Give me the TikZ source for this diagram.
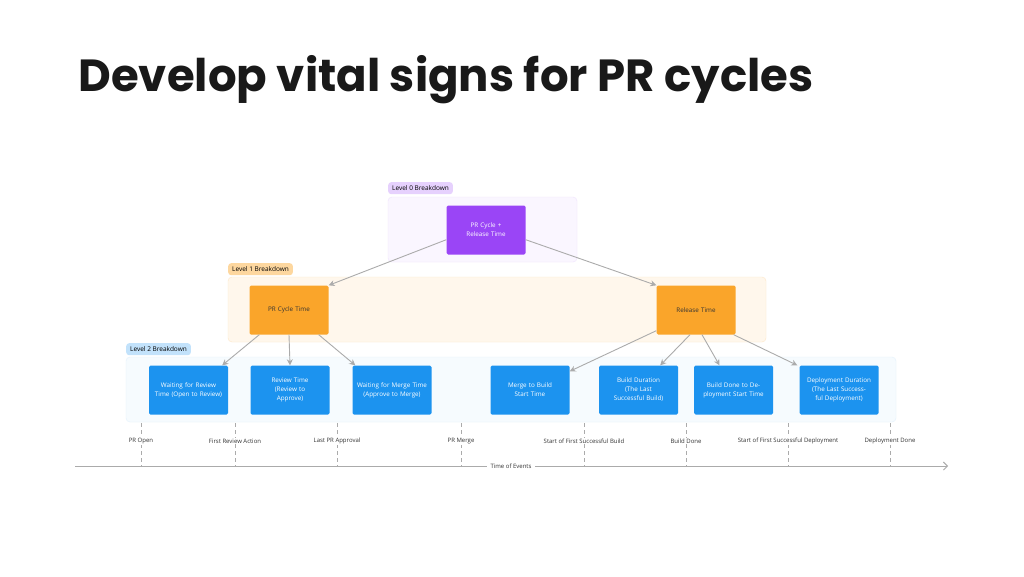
\documentclass[tikz,border=0pt]{standalone}
\usepackage{fontspec}
\setmainfont{Open Sans}
\newfontfamily\titlefont{Poppins}[UprightFont=* Bold]
\usetikzlibrary{arrows.meta,positioning}
\definecolor{lvpurple}{HTML}{9A45F6}
\definecolor{lvorange}{HTML}{FAA52A}
\definecolor{lvblue}{HTML}{1C93EF}
\definecolor{arrgray}{HTML}{ABABAB}
\tikzset{
  box/.style={rectangle,rounded corners=1.5pt,minimum width=#1,minimum height=49pt,
    align=center,font=\fontsize{6.3}{9}\selectfont,inner sep=1pt,text width=#1-8pt},
  box/.default=79pt,
  pbox/.style={box,fill=lvpurple,text=white},
  obox/.style={box,fill=lvorange,text=black!80},
  bbox/.style={box,fill=lvblue,text=white},
  lvl/.style={rectangle,rounded corners=3pt,anchor=north west,inner xsep=4pt,
    minimum height=12pt,font=\fontsize{6.5}{8}\selectfont},
  link/.style={draw=arrgray,line width=0.9pt,-{Stealth[length=6pt,width=6pt]}},
  tick/.style={draw=arrgray,line width=0.7pt,dash pattern=on 4pt off 3pt},
  evt/.style={font=\fontsize{6}{8}\selectfont,text=black!80}
}
\begin{document}
\begin{tikzpicture}[x=1pt,y=-1pt]
\useasboundingbox[fill=white] (0,0) rectangle (1024,576);
\node[anchor=west,font=\titlefont\fontsize{45}{50}\selectfont,text=black!90] (title) at (75,80) {Develop vital signs for PR cycles};

% containers
\draw[draw=lvpurple!15,fill=lvpurple!5,rounded corners=4pt] (388,197) rectangle (577,262);
\draw[draw=lvorange!25,fill=lvorange!9,rounded corners=4pt] (228,277) rectangle (766,342);
\draw[draw=lvblue!12,fill=lvblue!4,rounded corners=4pt] (126,357) rectangle (896,422);
\node[lvl,fill=lvpurple!25] (lv0) at (388,182) {Level 0 Breakdown};
\node[lvl,fill=lvorange!45] (lv1) at (228,263) {Level 1 Breakdown};
\node[lvl,fill=lvblue!27] (lv2) at (126,343) {Level 2 Breakdown};

% level 0 and 1
\node[pbox] (total) at (486,230) {PR Cycle +\\Release Time};
\node[obox] (cycle) at (289,310) {PR Cycle Time};
\node[obox] (release) at (696,310) {Release Time};

% level 2
\node[bbox] (wreview) at (188.5,390) {Waiting for Review Time (Open to Review)};
\node[bbox] (review) at (290,390) {Review Time\\(Review to\\Approve)};
\node[bbox] (wmerge) at (392,390) {Waiting for Merge Time (Approve to Merge)};
\node[bbox] (mbuild) at (530,390) {Merge to Build\\Start Time};
\node[bbox] (build) at (638.5,390) {Build Duration\\(The Last\\Successful Build)};
\node[bbox] (bdeploy) at (733.5,390) {Build Done to Deployment Start Time};
\node[bbox=88pt] (deploy) at (839,390) {Deployment Duration (The Last Successful Deployment)};

\draw[link] (total.south west) ++(0,-15) -- (cycle.north east);
\draw[link] (total.south east) ++(0,-15) -- (release.north west);
\draw[link] ([xshift=10pt]cycle.south west) -- ([xshift=-6pt]wreview.north east);
\draw[link] (cycle.south) -- (review.north);
\draw[link] ([xshift=-10pt]cycle.south east) -- ([xshift=3pt]wmerge.north west);
\draw[link] ([yshift=4pt]release.south west) -- ([yshift=-6pt]mbuild.north east);
\draw[link] ([xshift=-6pt]release.south) -- ([xshift=-18pt]build.north east);
\draw[link] ([xshift=6pt]release.south) -- ([xshift=-14pt]bdeploy.north);
\draw[link] ([xshift=-2pt]release.south east) -- ([xshift=-2pt]deploy.north west);

% time axis
\coordinate (t0) at (75,466);
\coordinate (t1) at (948,466);
\draw[draw=arrgray,line width=0.9pt,-{Straight Barb[length=4pt,width=8pt]}] (t0) -- (t1);
\foreach \x/\name/\lab in {141/popen/PR Open,235/frev/First Review Action,337/lapp/Last PR Approval,
  461/pmerge/PR Merge,584/sbuild/Start of First Successful Build,686/bdone/Build Done,
  788/sdeploy/Start of First Successful Deployment,890/ddone/Deployment Done}{
  \coordinate (\name-top) at (\x,423);
  \coordinate (\name-bot) at (\x,466);
  \draw[tick] (\name-top) -- (\name-bot);
  \node[evt,fill=white,inner sep=1pt] (\name) at (\x,441) {\lab};
}
\node[evt,fill=white,inner xsep=4pt] (axis) at (511,466) {Time of Events};
\end{tikzpicture}
\end{document}
